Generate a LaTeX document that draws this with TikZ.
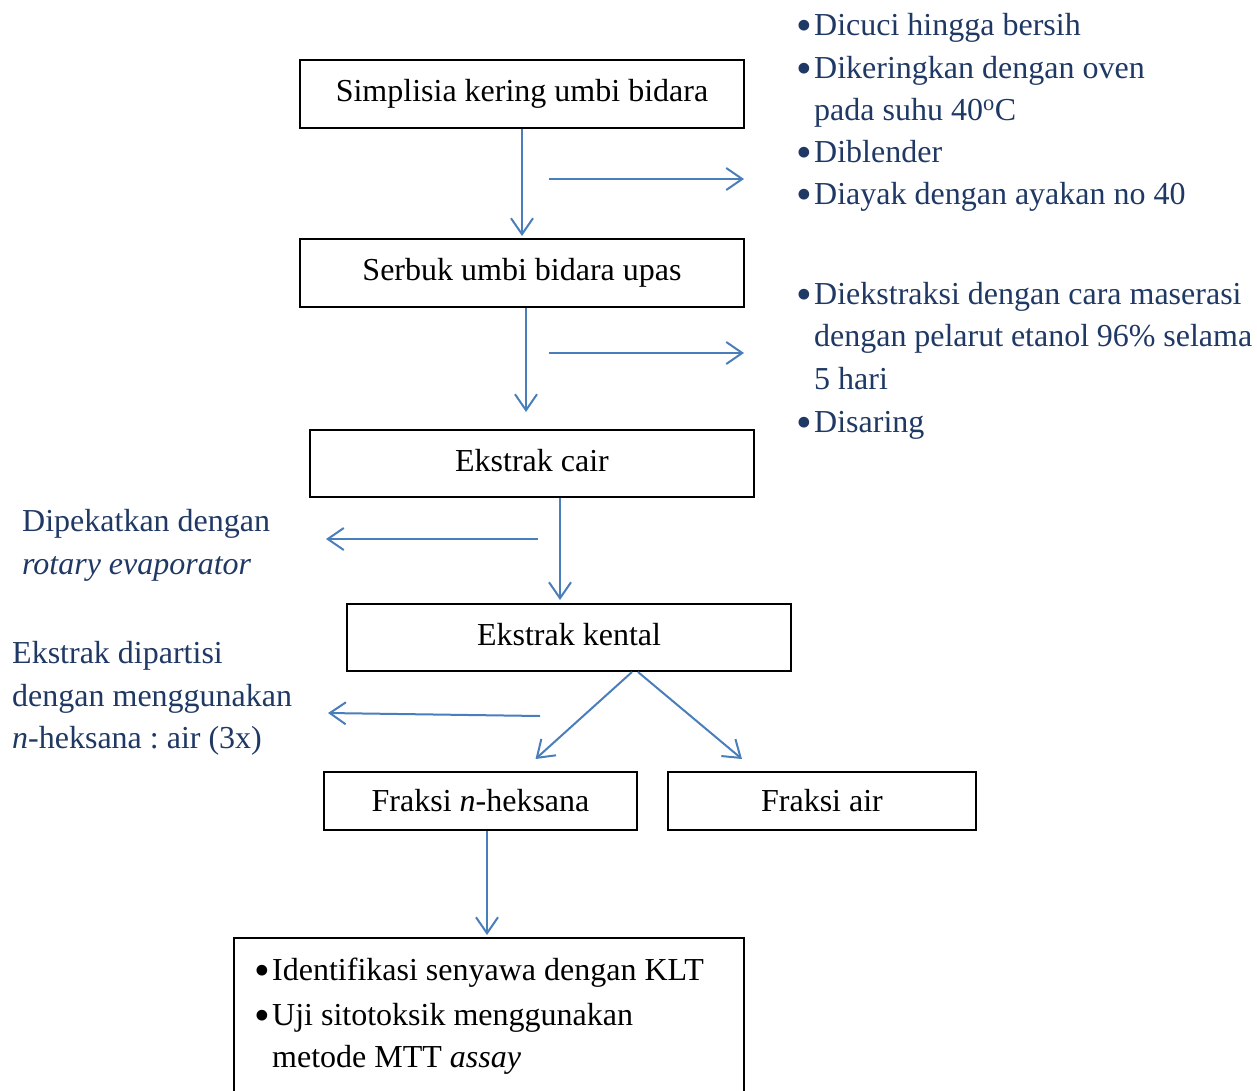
\documentclass[tikz,border=0pt]{standalone}
\usepackage{fontspec}
\setmainfont{Liberation Serif}
\usetikzlibrary{arrows.meta}
\definecolor{navy}{RGB}{31,56,100}
\definecolor{arrblue}{RGB}{74,126,187}
\newcommand\bul{\makebox[18pt][l]{\raisebox{-5.5pt}{\scalebox{1.4}{\textbullet}}}}
\frenchspacing
\begin{document}
\begin{tikzpicture}[x=1pt,y=-1pt, font=\fontsize{32}{42}\selectfont,
  box/.style={draw=black, line width=2pt, inner sep=0pt, text height=22pt, text depth=7pt},
  arr/.style={draw=arrblue, line width=2pt, -{Straight Barb[length=16pt,width=22pt,line width=2pt]}},
  note/.style={anchor=base west, inner sep=0pt, text=navy},
  btext/.style={anchor=base west, inner sep=0pt, text=black}]
\useasboundingbox (0,0) rectangle (1257,1090);
\clip (0,0) rectangle (1257,1090);

% boxes
\node[box, minimum width=444pt, minimum height=68pt] (b1) at (522,94) {Simplisia kering umbi bidara};
\node[box, minimum width=444pt, minimum height=68pt] (b2) at (522,273) {Serbuk umbi bidara upas};
\node[box, minimum width=444pt, minimum height=67pt] (b3) at (532,463.5) {Ekstrak cair};
\node[box, minimum width=444pt, minimum height=67pt] (b4) at (569,637.5) {Ekstrak kental};
\node[box, minimum width=313pt, minimum height=58pt, text height=27pt, text depth=7pt] (b5) at (480.5,801) {Fraksi \textit{n}-heksana};
\node[box, minimum width=308pt, minimum height=58pt, text height=27pt, text depth=7pt] (b6) at (822,801) {Fraksi air};
\node[box, minimum width=510pt, minimum height=180pt] (b7) at (489,1028) {};

% bottom box contents
\node[btext] (t1) at (254,980) {\bul Identifikasi senyawa dengan KLT};
\node[btext] (t2) at (254,1025) {\bul Uji sitotoksik menggunakan};
\node[btext] (t3) at (272,1067) {metode MTT \textit{assay}};

% right notes
\node[note] (r1) at (796,35) {\bul Dicuci hingga bersih};
\node[note] (r2) at (796,78) {\bul Dikeringkan dengan oven};
\node[note] (r3) at (814,120) {pada suhu 40\textsuperscript{o}C};
\node[note] (r4) at (796,162) {\bul Diblender};
\node[note] (r5) at (796,204) {\bul Diayak dengan ayakan no 40};
\node[note] (s1) at (796,304) {\bul Diekstraksi dengan cara maserasi};
\node[note] (s2) at (814,346) {\makebox[438pt][s]{dengan pelarut etanol 96\% selama}};
\node[note] (s3) at (814,389) {5 hari};
\node[note] (s4) at (796,432) {\bul Disaring};

% left notes
\node[note] (p1) at (22,531) {Dipekatkan dengan};
\node[note] (p2) at (22,574) {\textit{rotary evaporator}};
\node[note] (q1) at (12,663) {Ekstrak dipartisi};
\node[note] (q2) at (12,706) {dengan menggunakan};
\node[note] (q3) at (12,748) {\textit{n}-heksana : air (3x)};

% side arrow coordinates
\coordinate (h1s) at (549,179); \coordinate (h1e) at (744,179);
\coordinate (h2s) at (549,353); \coordinate (h2e) at (744,353);
\coordinate (h3s) at (538,539); \coordinate (h3e) at (326,539);
\coordinate (h4s) at (540,716); \coordinate (h4e) at (328,713);

% connectors
\draw[arr, shorten >=2pt] (b1.south) -- (b2.north);
\draw[arr, shorten >=17pt] ([xshift=4pt]b2.south) -- ([xshift=-6pt]b3.north);
\draw[arr, shorten >=3pt] ([xshift=28pt]b3.south) -- ([xshift=-9pt]b4.north);
\draw[arr] ([xshift=63pt]b4.south) -- ([xshift=55pt,yshift=12pt]b5.north);
\draw[arr] ([xshift=69pt]b4.south) -- ([xshift=-80pt,yshift=12pt]b6.north);
\draw[arr, shorten >=2pt] ([xshift=6.5pt]b5.south) -- ([xshift=-2pt]b7.north);

\draw[arr] (h1s) -- (h1e);
\draw[arr] (h2s) -- (h2e);
\draw[arr] (h3s) -- (h3e);
\draw[arr] (h4s) -- (h4e);
\end{tikzpicture}
\end{document}
